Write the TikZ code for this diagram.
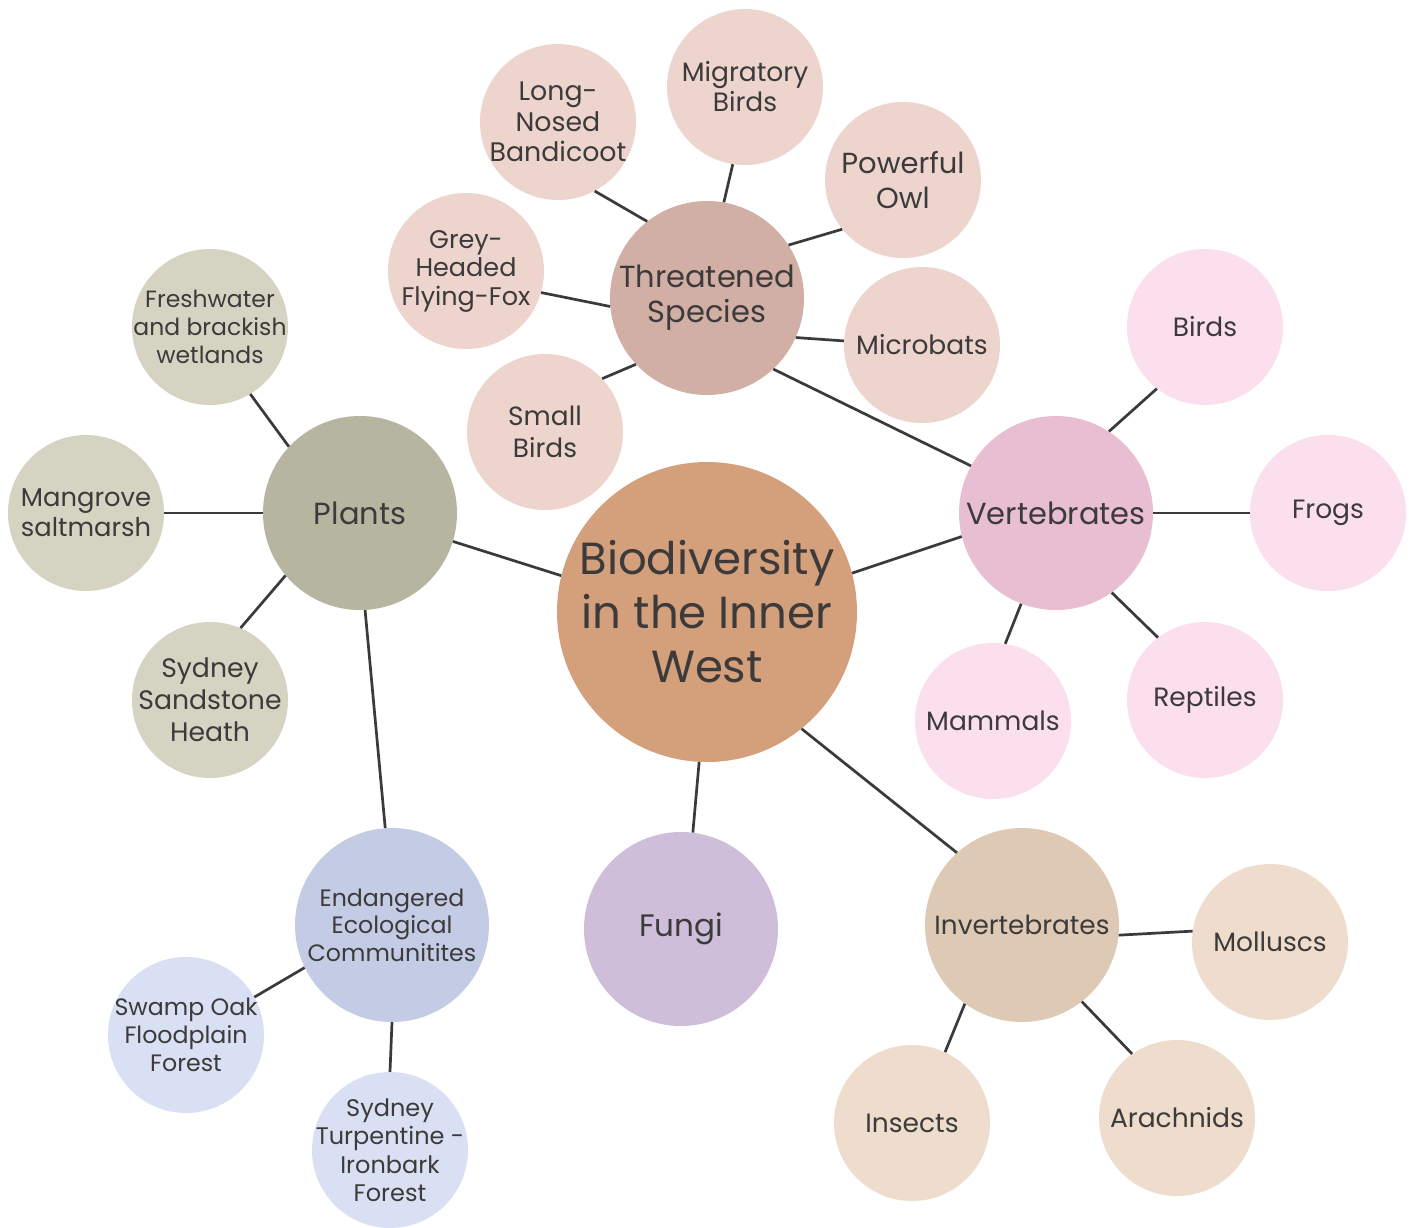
\documentclass[tikz,border=0pt]{standalone}
\usepackage{fontspec}
\setmainfont{Poppins}
\newcommand{\fsz}[2]{\fontsize{#1}{#2}\selectfont}
\definecolor{txt}{HTML}{3C3A3A}
\definecolor{lnk}{HTML}{3A3A3A}
\definecolor{cbio}{HTML}{D3A07B}
\definecolor{cplant}{HTML}{B5B5A0}
\definecolor{splant}{HTML}{D5D4C3}
\definecolor{cthr}{HTML}{D2AFA5}
\definecolor{sthr}{HTML}{EDD5CD}
\definecolor{cvert}{HTML}{E8BED3}
\definecolor{svert}{HTML}{FCDFEC}
\definecolor{cend}{HTML}{C3CCE4}
\definecolor{send}{HTML}{DAE0F3}
\definecolor{cfung}{HTML}{CFBED9}
\definecolor{cinv}{HTML}{DEC9B5}
\definecolor{sinv}{HTML}{EEDDCC}
\tikzset{
  bub/.style={circle, inner sep=-45pt, align=center, text=txt},
  bigbub/.style={bub, minimum size=194pt, font=\fsz{30.5}{35}},
  smallbub/.style={bub, minimum size=156pt, font=\fsz{26.5}{31}},
  link/.style={line width=2.7pt, draw=lnk},
}
\begin{document}
\begin{tikzpicture}[x=1pt,y=-1pt]
\useasboundingbox[fill=white] (0,0) rectangle (1416,1227);
% main nodes
\node[bub, minimum size=300pt, fill=cbio, font=\fsz{45}{54}] (bio) at (707,612) {Biodiversity\\in the Inner\\West};
\node[bigbub, fill=cplant] (plants) at (360,513) {Plants};
\node[bigbub, fill=cthr] (thr) at (707,298) {Threatened\\Species};
\node[bigbub, fill=cvert] (vert) at (1056,513) {Vertebrates};
\node[bigbub, fill=cend, font=\fsz{23.7}{27.5}] (endg) at (392,925) {Endangered\\Ecological\\Communitites};
\node[bigbub, fill=cfung, font=\fsz{31}{35}] (fungi) at (681,929) {Fungi};
\node[bigbub, fill=cinv, font=\fsz{26.3}{30}] (inv) at (1022,925) {Invertebrates};
% plants
\node[smallbub, fill=splant, font=\fsz{23.5}{28}] (fresh) at (210,327) {Freshwater\\and brackish\\wetlands};
\node[smallbub, fill=splant, font=\fsz{25.8}{30}] (mang) at (86,513) {Mangrove\\saltmarsh};
\node[smallbub, fill=splant, font=\fsz{26.7}{32}] (heath) at (210,700) {Sydney\\Sandstone\\Heath};
% endangered
\node[smallbub, fill=send, font=\fsz{23.7}{28}] (swamp) at (186,1035) {Swamp Oak\\Floodplain\\Forest};
\node[smallbub, fill=send, font=\fsz{24}{28.5}] (turp) at (390,1150) {Sydney\\Turpentine -\\Ironbark\\Forest};
% threatened
\node[smallbub, fill=sthr, font=\fsz{26.8}{30.5}] (bandi) at (558,122) {Long-\\Nosed\\Bandicoot};
\node[smallbub, fill=sthr, font=\fsz{26.5}{30}] (migr) at (745,87) {Migratory\\Birds};
\node[smallbub, fill=sthr, font=\fsz{29}{35}] (owl) at (903,180) {Powerful\\Owl};
\node[smallbub, fill=sthr, font=\fsz{25.5}{28.5}] (grey) at (466,271) {Grey-\\Headed\\Flying-Fox};
\node[smallbub, fill=sthr] (micro) at (922,345) {Microbats};
\node[smallbub, fill=sthr, font=\fsz{26.4}{32}] (sbird) at (545,432) {Small\\Birds};
% vertebrates
\node[smallbub, fill=svert] (birds) at (1205,327) {Birds};
\node[smallbub, fill=svert] (frogs) at (1328,513) {Frogs};
\node[smallbub, fill=svert] (rept) at (1205,700) {Reptiles};
\node[smallbub, fill=svert] (mamm) at (993,721) {Mammals};
% invertebrates
\node[smallbub, fill=sinv] (moll) at (1270,942) {Molluscs};
\node[smallbub, fill=sinv] (insect) at (912,1123) {Insects};
\node[smallbub, fill=sinv] (arach) at (1177,1118) {Arachnids};
% links
\draw[link] (bandi.298.7) -- (thr.128.6);
\draw[link] (migr.261.3) -- (thr.80.9);
\draw[link] (owl.219.3) -- (thr.33.7);
\draw[link] (grey.344.4) -- (thr.185.9);
\draw[link] (micro.177) -- (thr.336);
\draw[link] (sbird.43) -- (thr.223.3);
\draw[link] (thr.313.4) -- (vert.151.9);
\draw[link] (fresh.301.2) -- (plants.137.1);
\draw[link] (mang.0) -- (plants.180);
\draw[link] (heath.67.5) -- (plants.220.5);
\draw[link] (plants.343.6) -- (bio.166);
\draw[link] (plants.273.5) -- (endg.94.2);
\draw[link] (endg.206.6) -- (swamp.29.4);
\draw[link] (endg.270) -- (turp.90);
\draw[link] (bio.267.3) -- (fungi.83.5);
\draw[link] (bio.309.6) -- (inv.132);
\draw[link] (bio.15) -- (vert.194.3);
\draw[link] (vert.57.8) -- (birds.232.1);
\draw[link] (vert.0) -- (frogs.180);
\draw[link] (vert.305.1) -- (rept.127.3);
\draw[link] (vert.249.7) -- (mamm.81.3);
\draw[link] (inv.354.1) -- (moll.172.7);
\draw[link] (inv.234.8) -- (insect.65.7);
\draw[link] (inv.308) -- (arach.125.5);
\end{tikzpicture}
\end{document}
